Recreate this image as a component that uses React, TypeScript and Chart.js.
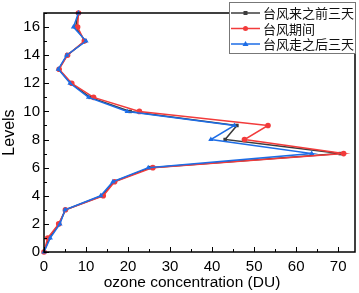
import React, { useEffect, useRef } from "react";
import { Chart, registerables } from "chart.js";
Chart.register(...registerables);

const levels = [0, 1, 2, 3, 4, 5, 6, 7, 8, 9, 10, 11, 12, 13, 14, 15, 16, 17];
const before = [0, 1.2, 3.6, 5.1, 13.8, 16.6, 25.3, 70.5, 43.1, 45.9, 20.5, 11.0, 6.4, 3.5, 5.5, 9.8, 7.5, 8.2];
const during = [0, 0.9, 3.5, 5.1, 14.1, 16.8, 25.9, 71.3, 47.7, 53.3, 22.7, 11.8, 6.6, 3.6, 5.6, 9.6, 8.0, 8.2];
const after = [0, 1.5, 3.8, 5.0, 13.5, 16.4, 24.8, 63.7, 39.7, 45.3, 19.8, 10.6, 6.2, 3.4, 5.4, 10.0, 7.0, 8.2];
const seriesNames = ["台风来之前三天", "台风期间", "台风走之后三天"];
const xTicks = [0, 10, 20, 30, 40, 50, 60, 70];
const yTicks = [0, 2, 4, 6, 8, 10, 12, 14, 16];
const xTitle = "ozone concentration (DU)";

const colors = ["#3c3c3c", "#f23b3b", "#1d6de6"];
const styles = ["rect", "circle", "triangle"];
const radii = [2.5, 2.8, 3];

const frame = {
  id: "frame",
  afterDraw(chart: any) {
    const { ctx, chartArea: a, scales } = chart;
    const xs = scales.x, ys = scales.y;
    ctx.save();
    ctx.strokeStyle = "#000";
    ctx.lineWidth = 1;
    for (let v = 0; v <= 70; v += 5) {
      const px = Math.round(xs.getPixelForValue(v)) + 0.5;
      const len = v % 10 === 0 ? 5 : 3;
      ctx.beginPath();
      ctx.moveTo(px, a.bottom);
      ctx.lineTo(px, a.bottom - len);
      ctx.stroke();
    }
    for (let v = 0; v <= 17; v += 1) {
      const py = Math.round(ys.getPixelForValue(v)) + 0.5;
      const len = v % 2 === 0 ? 5 : 3;
      ctx.beginPath();
      ctx.moveTo(a.left, py);
      ctx.lineTo(a.left + len, py);
      ctx.stroke();
    }
    ctx.lineWidth = 1.5;
    ctx.strokeRect(a.left, a.top, a.right - a.left, a.bottom - a.top);
    // x title
    ctx.fillStyle = "#000";
    ctx.font = "15.5px 'Liberation Sans'";
    ctx.textAlign = "center";
    ctx.textBaseline = "middle";
    ctx.fillText(xTitle, 192, 283);
    // legend
    const bx = 229, by = 2, bw = 126, bh = 51;
    ctx.fillStyle = "#fff";
    ctx.fillRect(bx, by, bw, bh);
    ctx.lineWidth = 1;
    ctx.strokeStyle = "#777";
    ctx.strokeRect(bx + 0.5, by + 0.5, bw, bh);
    const rows = [13, 28.5, 44];
    seriesNames.forEach((name, i) => {
      const y = rows[i];
      ctx.strokeStyle = colors[i];
      ctx.lineWidth = 1.5;
      ctx.beginPath();
      ctx.moveTo(231, y);
      ctx.lineTo(260, y);
      ctx.stroke();
      ctx.fillStyle = colors[i];
      ctx.beginPath();
      if (i === 0) ctx.rect(243.5, y - 2, 4, 4);
      else if (i === 1) ctx.arc(245.5, y, 2.5, 0, Math.PI * 2);
      else {
        ctx.moveTo(245.5, y - 3);
        ctx.lineTo(248.5, y + 2);
        ctx.lineTo(242.5, y + 2);
        ctx.closePath();
      }
      ctx.fill();
      ctx.fillStyle = "#111";
      ctx.font = "13px 'Noto Sans CJK SC'";
      ctx.textBaseline = "middle";
      ctx.textAlign = "left";
      ctx.fillText(name, 263, y + 0.5);
    });
    ctx.restore();
  },
};

export default function App() {
  const ref = useRef<HTMLCanvasElement>(null);
  useEffect(() => {
    const mk = (vals: number[]) => vals.map((v, i) => ({ x: v, y: levels[i] }));
    const all = [before, during, after];
    const chart = new Chart(ref.current!, {
      type: "scatter",
      data: {
        datasets: all.map((vals, i) => ({
          label: seriesNames[i],
          data: mk(vals),
          showLine: true,
          borderColor: colors[i],
          backgroundColor: colors[i],
          borderWidth: 1.5,
          pointStyle: styles[i] as any,
          pointRadius: radii[i],
          pointBorderWidth: 0,
          order: 2 - i,
          clip: false as any,
        })),
      },
      options: {
        animation: false,
        responsive: false,
        maintainAspectRatio: false,
        layout: { padding: { top: 1, right: 3, left: 0, bottom: 0 } },
        plugins: { legend: { display: false }, tooltip: { enabled: false } },
        scales: {
          x: {
            type: "linear",
            min: 0,
            max: 74,
            afterFit: (s: any) => { s.height = 41; },
            afterBuildTicks: (s: any) => { s.ticks = xTicks.map((v) => ({ value: v })); },
            grid: { display: false, drawTicks: false },
            border: { display: false },
            ticks: { padding: 6, color: "#000", font: { family: "'Liberation Sans'", size: 15 } },
          },
          y: {
            type: "linear",
            min: 0,
            max: 17,
            afterFit: (s: any) => { s.width = 44; },
            afterBuildTicks: (s: any) => { s.ticks = yTicks.map((v) => ({ value: v })); },
            grid: { display: false, drawTicks: false },
            border: { display: false },
            ticks: { padding: 4, color: "#000", font: { family: "'Liberation Sans'", size: 15 } },
            title: { display: true, text: "Levels", color: "#000", padding: { top: 0, bottom: 0 }, font: { family: "'Liberation Sans'", size: 16 } },
          },
        },
      },
      plugins: [frame],
    });
    return () => chart.destroy();
  }, []);
  return (
    <div style={{ position: "fixed", left: 0, top: 0, width: 359, height: 293, background: "#fff" }}>
      <canvas ref={ref} width={359} height={293} style={{ width: 359, height: 293 }} />
    </div>
  );
}
